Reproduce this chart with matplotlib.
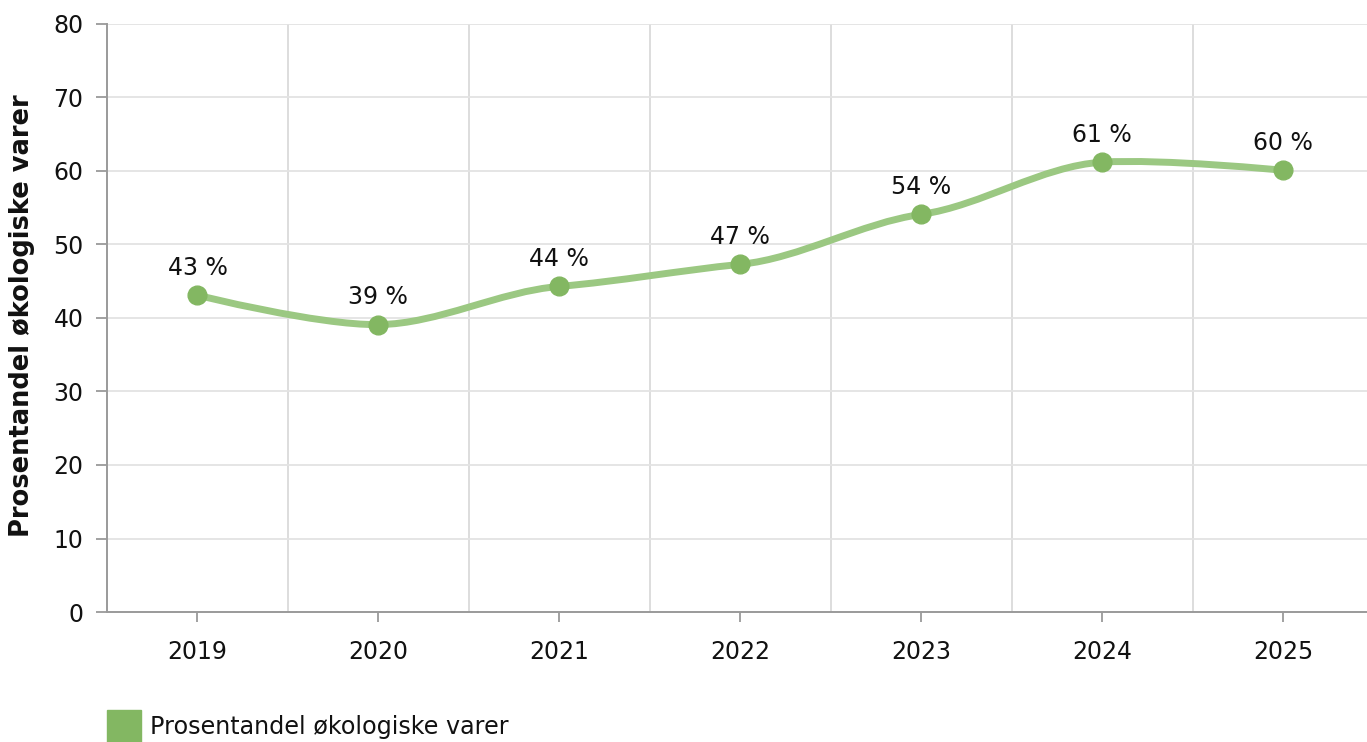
import numpy as np
import matplotlib
matplotlib.use("Agg")
import matplotlib.pyplot as plt
from matplotlib.path import Path
from matplotlib.patches import PathPatch, Rectangle

# 데이터
years = ["2019", "2020", "2021", "2022", "2023", "2024", "2025"]
share = [43.1, 39.1, 44.3, 47.3, 54.1, 61.2, 60.1]
labels = ["43 %", "39 %", "44 %", "47 %", "54 %", "61 %", "60 %"]
series_name = "Prosentandel økologiske varer"
y_ticks = [0, 10, 20, 30, 40, 50, 60, 70, 80]

line_color = "#9bc882"
marker_color = "#83b762"
grid_color = "#e3e3e3"
vgrid_color = "#dadada"
axis_color = "#9a9a9a"

plt.rcParams['font.family'] = ['DejaVu Sans']


def smooth_path(xs, ys, tension=0.5):
    # 곡선 (cardinal spline, 끝점은 평평하게)
    n = len(xs)
    slopes = [0.0] * n
    for i in range(1, n - 1):
        slopes[i] = tension * (ys[i + 1] - ys[i - 1]) / (xs[i + 1] - xs[i - 1])
    verts = [(xs[0], ys[0])]
    codes = [Path.MOVETO]
    for i in range(1, n):
        h = (xs[i] - xs[i - 1]) / 3
        c1 = (xs[i - 1] + h, ys[i - 1] + slopes[i - 1] * h) if i - 1 > 0 else (xs[i - 1], ys[i - 1])
        c2 = (xs[i] - h, ys[i] - slopes[i] * h) if i < n - 1 else (xs[i], ys[i])
        verts += [c1, c2, (xs[i], ys[i])]
        codes += [Path.CURVE4] * 3
    return Path(verts, codes)


fig = plt.figure(figsize=(13.67, 7.42), dpi=100)
ax = fig.add_axes([107 / 1367, 130 / 742, 1260 / 1367, 588 / 742])

x = np.arange(len(years))
ax.add_patch(PathPatch(smooth_path(list(x), share), facecolor="none",
                       edgecolor=line_color, lw=5, capstyle="round", zorder=3))
ax.plot(x, share, "o", ms=13.5, color=marker_color, zorder=4)

for xi, yi, lab in zip(x, share, labels):
    ax.annotate(lab, (xi, yi), xytext=(0, 11), textcoords="offset points",
                ha="center", va="bottom", fontsize=17, color="#111111")

ax.set_xlim(-0.5, 6.464)
ax.set_ylim(0, 80)
ax.set_yticks(y_ticks)
ax.set_xticks(x)
ax.set_xticklabels(years)
ax.set_xticks(x[:-1] + 0.5, minor=True)

ax.grid(axis="y", color=grid_color, lw=1.3)
ax.grid(axis="x", which="minor", color=vgrid_color, lw=1.3)
ax.set_axisbelow(True)

for s in ["top", "right"]:
    ax.spines[s].set_visible(False)
ax.spines["left"].set_color(axis_color)
ax.spines["bottom"].set_color(axis_color)
ax.spines["left"].set_linewidth(1.4)
ax.spines["bottom"].set_linewidth(1.4)

ax.tick_params(axis="x", which="major", length=7, width=1.3, color=axis_color,
               labelsize=17, pad=13, labelcolor="#111111")
ax.tick_params(axis="x", which="minor", length=0)
ax.tick_params(axis="y", length=8, width=1.3, color=axis_color,
               labelsize=17, pad=9, labelcolor="#111111")

fig.text(22 / 1367, 1 - 316 / 742, series_name, rotation=90, ha="center",
         va="center", fontsize=18.5, fontweight="bold", color="#111111")

# 범례
fig.add_artist(Rectangle((107 / 1367, 0), 34 / 1367, 32 / 742,
                         transform=fig.transFigure, color=marker_color))
fig.text(150 / 1367, 1 - 727 / 742, series_name, ha="left", va="center",
         fontsize=17.2, color="#111111")

fig.savefig("out.png", dpi=100)
